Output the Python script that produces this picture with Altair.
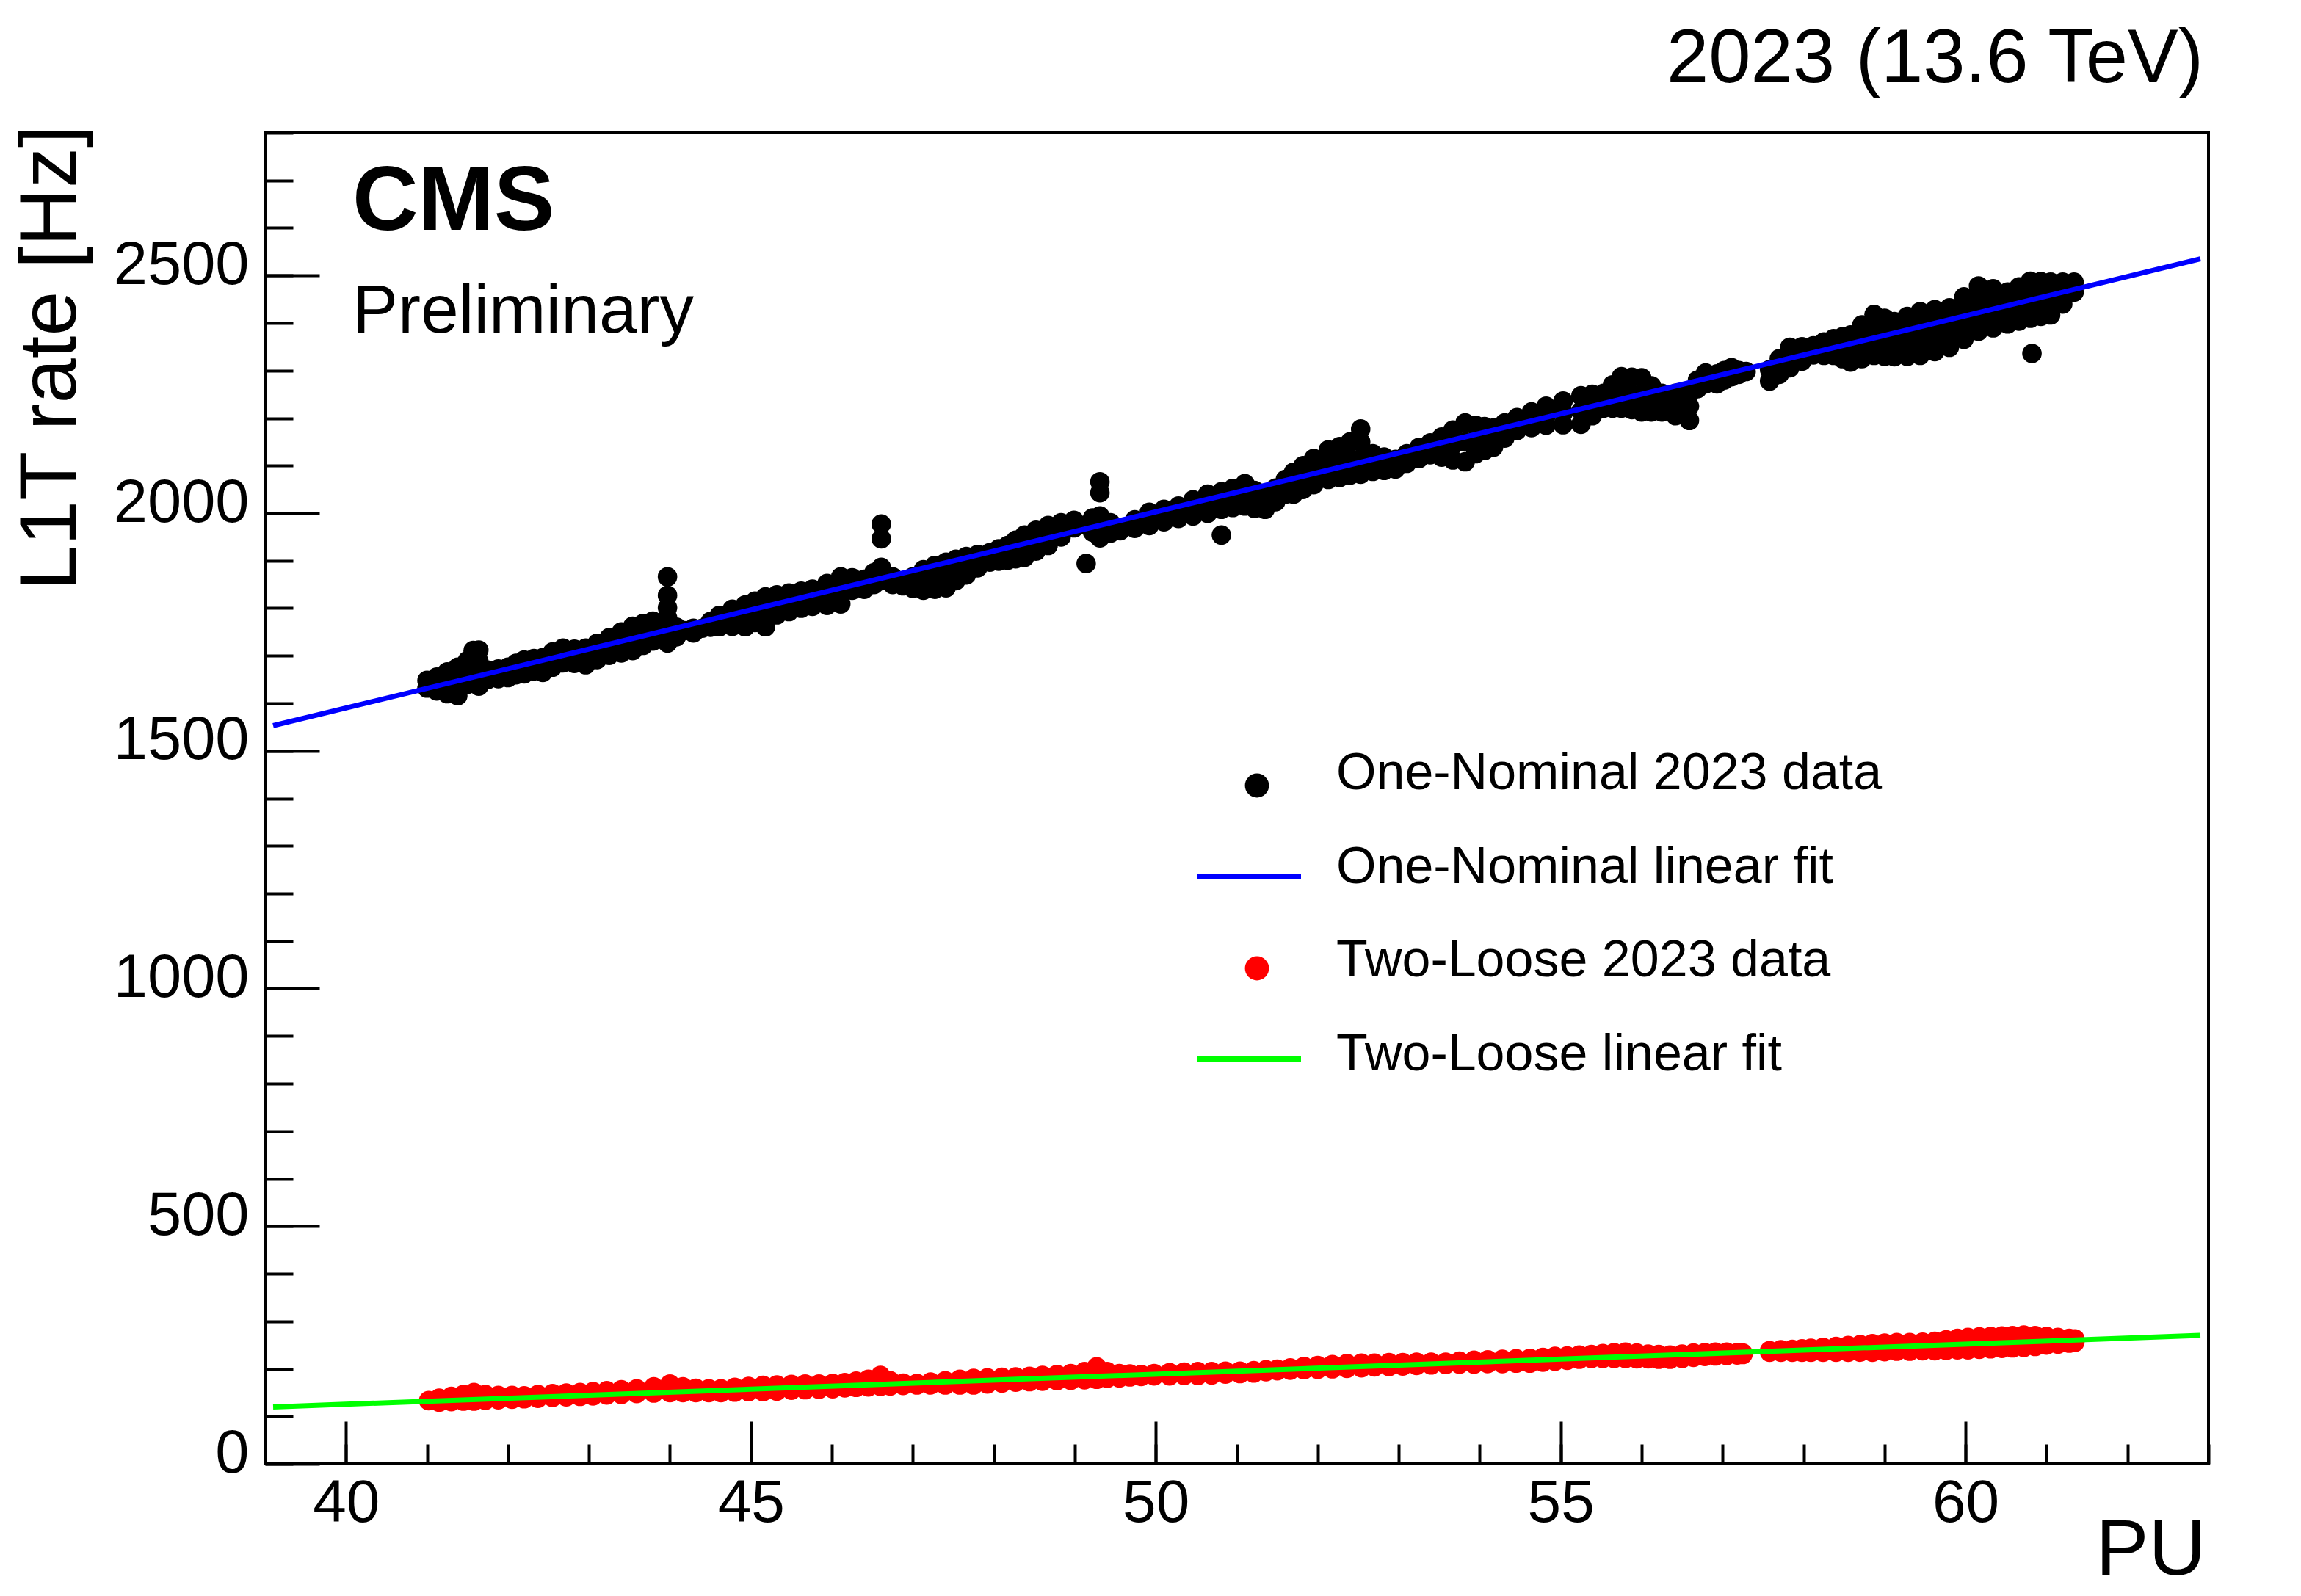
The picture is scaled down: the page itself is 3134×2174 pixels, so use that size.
import altair as alt
import pandas as pd

# ---------------- data ----------------
# One-Nominal 2023 data: PU columns and the rates of the points at each column
one_pu_cols = [41.00, 41.12, 41.25, 41.38, 41.50, 41.57, 41.64, 41.75, 41.88, 42.00,
               42.10, 42.20, 42.32, 42.43, 42.55, 42.68, 42.82, 42.96, 43.10, 43.25,
               43.40, 43.54, 43.67, 43.79, 43.90, 43.97, 44.08, 44.18, 44.29, 44.40,
               44.50, 44.61, 44.77, 44.93, 45.05, 45.18, 45.32, 45.47, 45.62, 45.76,
               45.94, 46.11, 46.25, 46.40, 46.52, 46.61, 46.75, 46.88, 47.00, 47.13,
               47.27, 47.41, 47.53, 47.66, 47.80, 47.95, 48.06, 48.17, 48.27, 48.38,
               48.52, 48.67, 48.83, 48.99, 49.14, 49.22, 49.31, 49.44, 49.56, 49.74,
               49.92, 50.10, 50.28, 50.46, 50.64, 50.81, 50.95, 51.10, 51.22, 51.35,
               51.48, 51.60, 51.70, 51.82, 51.95, 52.13, 52.27, 52.40, 52.53, 52.68,
               52.82, 52.96, 53.10, 53.25, 53.39, 53.53, 53.67, 53.82, 53.95, 54.06,
               54.17, 54.31, 54.46, 54.64, 54.82, 55.03, 55.25, 55.39, 55.53, 55.64,
               55.75, 55.88, 56.00, 56.12, 56.25, 56.42, 56.59, 56.69, 56.79, 56.93,
               57.02, 57.11, 57.20, 57.29, 57.58, 57.70, 57.83, 57.98, 58.12, 58.25,
               58.37, 58.48, 58.58, 58.72, 58.87, 59.00, 59.12, 59.28, 59.44, 59.62,
               59.80, 59.98, 60.16, 60.34, 60.52, 60.66, 60.80, 60.82, 60.93, 61.05,
               61.20, 61.34]
one_rate_cols = [[1648, 1632], [1655, 1626, 1640], [1666, 1620, 1643], [1676, 1616, 1645], [1690, 1640, 1665],
                 [1711, 1700, 1660], [1712, 1660, 1636, 1688], [1670, 1650], [1672, 1652], [1676, 1654],
                 [1684, 1660], [1691, 1662], [1694, 1668], [1696, 1665, 1680], [1708, 1676, 1692],
                 [1716, 1685, 1700], [1714, 1684, 1699], [1716, 1681, 1698], [1726, 1692, 1709], [1738, 1701, 1720],
                 [1750, 1706, 1728], [1762, 1711, 1735], [1768, 1722, 1745], [1773, 1731, 1752], [1760, 1735],
                 [1866, 1827, 1801, 1780, 1727, 1755], [1760, 1740], [1753], [1758, 1748], [1758],
                 [1772, 1760], [1785, 1761, 1773], [1798, 1762, 1780], [1807, 1761, 1785], [1815, 1770, 1792],
                 [1824, 1761, 1792], [1828, 1786, 1807], [1832, 1793, 1812], [1836, 1800, 1818], [1840, 1804, 1822],
                 [1852, 1806, 1829], [1866, 1809, 1840], [1864, 1838], [1861, 1840], [1875, 1850],
                 [1886, 1858, 1977, 1946], [1866, 1850], [1855, 1847], [1866, 1842], [1881, 1838, 1860],
                 [1890, 1840, 1865], [1897, 1843, 1870], [1903, 1858, 1880], [1909, 1870, 1890], [1913, 1885],
                 [1917, 1897], [1925, 1899], [1932, 1901, 1916], [1943, 1904, 1924], [1954, 1907, 1930],
                 [1964, 1920, 1942], [1974, 1932, 1953], [1980, 1950, 1965], [1985, 1969], [1894, 1975],
                 [1990, 1960, 1975], [1994, 1948, 1971, 2066, 2043], [1980, 1958], [1969, 1963], [1986, 1968],
                 [2002, 1974], [2008, 1982], [2015, 1989], [2028, 1994, 2011], [2040, 2000, 2020],
                 [1954, 2045, 2008, 2026], [2052, 2012, 2032], [2062, 2015, 2038], [2048, 2010, 2029], [2035, 2008],
                 [2053, 2024], [2071, 2040, 2055], [2086, 2040, 2063], [2100, 2050, 2075], [2115, 2060, 2088],
                 [2133, 2071, 2100], [2140, 2075, 2108], [2150, 2080, 2115], [2177, 2150, 2082, 2115], [2125, 2088, 2106],
                 [2118, 2090], [2113, 2093], [2125, 2105], [2138, 2115], [2148, 2123],
                 [2160, 2118, 2139], [2175, 2112, 2143], [2190, 2108, 2150], [2185, 2125, 2155], [2182, 2132, 2157],
                 [2179, 2139, 2159], [2190, 2158], [2201, 2174], [2213, 2180], [2225, 2185, 2205],
                 [2236, 2186, 2211], [2247, 2187, 2215], [2250, 2205, 2228], [2252, 2221], [2270, 2221, 2245],
                 [2287, 2221, 2255], [2286, 2218, 2250], [2285, 2213, 2250], [2268, 2213, 2240], [2252, 2213, 2232],
                 [2252, 2205, 2230], [2252, 2195, 2225], [2280, 2262], [2295, 2272], [2293, 2272],
                 [2300, 2280], [2306, 2287], [2300, 2292], [2298], [2302, 2278],
                 [2325, 2292], [2349, 2306, 2328], [2350, 2320], [2352, 2333], [2360, 2332],
                 [2367, 2332, 2350], [2371, 2325, 2348], [2375, 2318, 2345], [2396, 2325, 2360],
                 [2418, 2332, 2375, 2396, 2353],
                 [2410, 2330, 2370, 2390, 2350], [2403, 2329, 2365, 2384], [2414, 2330, 2372, 2393, 2351],
                 [2424, 2332, 2380, 2402, 2356], [2428, 2340, 2385, 2406, 2362],
                 [2432, 2349, 2390, 2411, 2370], [2455, 2366, 2410, 2432, 2388], [2478, 2383, 2430, 2454, 2406],
                 [2472, 2390, 2430, 2451, 2410], [2465, 2398, 2430, 2448],
                 [2476, 2404, 2440, 2458, 2422], [2488, 2410, 2450, 2469, 2430], [2336],
                 [2487, 2414, 2450, 2468, 2432], [2486, 2417, 2450, 2468, 2433],
                 [2486, 2440, 2462], [2486, 2465]]

# Two-Loose 2023 data
two_pu_cols = [41.02, 41.15, 41.30, 41.45, 41.58, 41.72, 41.88, 42.05, 42.20, 42.37,
               42.55, 42.72, 42.89, 43.05, 43.22, 43.40, 43.59, 43.80, 44.00, 44.16,
               44.32, 44.48, 44.63, 44.80, 44.97, 45.15, 45.32, 45.50, 45.67, 45.84,
               46.01, 46.16, 46.30, 46.45, 46.60, 46.72, 46.88, 47.05, 47.22, 47.40,
               47.58, 47.75, 47.92, 48.10, 48.27, 48.44, 48.60, 48.78, 48.95, 49.12,
               49.27, 49.40, 49.55, 49.68, 49.82, 49.98, 50.17, 50.35, 50.52, 50.69,
               50.86, 51.04, 51.21, 51.36, 51.50, 51.66, 51.83, 52.00, 52.18, 52.36,
               52.54, 52.70, 52.88, 53.05, 53.22, 53.40, 53.58, 53.75, 53.93, 54.10,
               54.28, 54.45, 54.62, 54.78, 54.93, 55.08, 55.23, 55.38, 55.52, 55.66,
               55.80, 55.94, 56.08, 56.21, 56.35, 56.50, 56.64, 56.78, 56.91, 57.05,
               57.18, 57.25, 57.58, 57.72, 57.86, 57.98, 58.09, 58.24, 58.40, 58.55,
               58.70, 58.85, 59.00, 59.15, 59.31, 59.47, 59.62, 59.76, 59.90, 60.03,
               60.17, 60.31, 60.45, 60.58, 60.72, 60.86, 61.00, 61.14, 61.28, 61.35]
two_rate_cols = [[133], [138, 130], [142, 131], [146, 132], [150, 132], [146, 134], [144, 135], [144, 136],
                 [143, 137], [146, 138], [148, 140], [149, 141], [150, 142], [152, 143], [154, 145],
                 [156, 146], [158, 148], [162, 149], [168, 150], [162, 150], [159, 150], [158, 150],
                 [158, 150], [161, 151], [163, 152], [165, 152], [166, 153], [167, 155], [168, 156],
                 [168, 157], [169, 158], [171, 160], [174, 161], [178, 162], [186, 163], [175, 164],
                 [170, 165], [169, 166], [172, 166], [175, 166], [178, 166], [180, 166], [181, 168],
                 [182, 170], [183, 172], [184, 173], [186, 174], [188, 175], [190, 176], [194, 177],
                 [204, 178], [194, 180], [190, 181], [189, 183], [188, 184], [190, 185], [192, 185],
                 [193, 186], [194, 186], [194, 187], [195, 189], [195, 190], [196, 191], [198, 194],
                 [199, 196], [202, 197], [205, 198], [207, 199], [209, 200], [211, 201], [212, 202],
                 [212, 204], [213, 205], [213, 206], [214, 207], [214, 208], [214, 209], [216, 210],
                 [218, 210], [219, 211], [220, 211], [221, 212], [222, 212], [224, 214], [226, 216],
                 [227, 218], [229, 220], [230, 222], [232, 222], [234, 222], [235, 222], [233, 221],
                 [231, 221], [230, 220], [229, 220], [231, 222], [233, 224], [234, 226], [235, 227],
                 [235, 228], [234, 229], [233, 230], [238, 235], [240, 235], [241, 235], [242, 235],
                 [243, 235], [245, 235], [247, 235], [249, 235], [251, 235], [253, 235], [254, 236],
                 [255, 237], [255, 237], [256, 238], [258, 238], [261, 239], [264, 240], [266, 240],
                 [267, 241], [268, 242], [269, 243], [270, 244], [271, 245], [270, 247], [268, 250],
                 [266, 252], [264, 254], [263, 256]]

# Linear fits (end points)
fit_pu = [39.1, 62.9]
one_fit_rate = [1553, 2535]
two_fit_rate = [119.8, 270.3]

# Axis ticks
x_major_ticks = [40, 45, 50, 55, 60]
x_minor_ticks = list(range(39, 64))
y_major_ticks = [0, 500, 1000, 1500, 2000, 2500]
y_minor_ticks = list(range(0, 2801, 100))

legend_labels = ["One-Nominal 2023 data", "One-Nominal linear fit",
                 "Two-Loose 2023 data", "Two-Loose linear fit"]


def expand(cols, vals):
    xs, ys = [], []
    for c, v in zip(cols, vals):
        for r in v:
            xs.append(c)
            ys.append(r)
    return pd.DataFrame({"pu": xs, "rate": ys})


one_df = expand(one_pu_cols, one_rate_cols)
two_df = expand(two_pu_cols, two_rate_cols)
fit_df = pd.DataFrame({"pu": fit_pu, "one": one_fit_rate, "two": two_fit_rate})

# ---------------- layout ----------------
W, H = 2647, 1813
FONT = "Liberation Sans"
xscale = alt.Scale(domain=[39, 63], nice=False, zero=False)
yscale = alt.Scale(domain=[0, 2800], nice=False, zero=True)


def tick_axis(values, size, orient):
    return alt.Axis(values=values, orient=orient, offset=-size, tickSize=size, tickWidth=4,
                    tickColor="black", labels=False, domain=False, grid=False, title=None)


label_x_axis = alt.Axis(values=x_major_ticks, orient="bottom", ticks=False, tickSize=0, domain=False,
                        grid=False, format="d", labelFont=FONT, labelFontSize=82, labelColor="black",
                        labelPadding=13, labelFlush=False, labelOverlap=False, labelLimit=600,
                        title="PU", titleFont=FONT, titleFontSize=108, titleFontWeight="normal",
                        titleColor="black", titleAnchor="end", titleAlign="right",
                        titleBaseline="alphabetic", titleX=W - 4, titleY=150)
label_y_axis = alt.Axis(values=y_major_ticks, orient="left", ticks=False, tickSize=0, domain=False,
                        grid=False, format="d", labelFont=FONT, labelFontSize=83, labelColor="black",
                        labelPadding=22, labelOffset=-14, labelFlush=False, labelOverlap=False,
                        labelLimit=600,
                        title="L1T rate [Hz]", titleFont=FONT, titleFontSize=110,
                        titleFontWeight="normal", titleColor="black", titleAngle=270,
                        titleAlign="right", titleBaseline="alphabetic", titleX=-259, titleY=-11)

black = alt.Chart(one_df).mark_circle(size=707, color="black", opacity=1).encode(
    x=alt.X("pu:Q", scale=xscale, axis=tick_axis(x_major_ticks, 58, "bottom")),
    y=alt.Y("rate:Q", scale=yscale, axis=tick_axis(y_major_ticks, 74, "left")),
)
red = alt.Chart(two_df).mark_circle(size=707, color="#ff0000", opacity=1).encode(
    x=alt.X("pu:Q", scale=xscale, axis=tick_axis(x_minor_ticks, 27, "bottom")),
    y=alt.Y("rate:Q", scale=yscale, axis=tick_axis(y_minor_ticks, 38, "left")),
)
blue = alt.Chart(fit_df).mark_line(color="#0000ff", strokeWidth=7).encode(
    x=alt.X("pu:Q", scale=xscale, axis=label_x_axis),
    y=alt.Y("one:Q", scale=yscale, axis=label_y_axis),
)
green = alt.Chart(fit_df).mark_line(color="#00ff00", strokeWidth=7).encode(
    x=alt.X("pu:Q", scale=xscale, axis=None),
    y=alt.Y("two:Q", scale=yscale, axis=None),
)


def text_at(text, x, y, size, weight="normal", align="left"):
    return alt.Chart(pd.DataFrame({"t": [text]})).mark_text(
        font=FONT, fontSize=size, fontWeight=weight, align=align, baseline="alphabetic",
        color="black").encode(x=alt.value(x), y=alt.value(y), text="t:N")


def dot_at(x, y, color):
    return alt.Chart(pd.DataFrame({"t": [0]})).mark_circle(
        size=1075, color=color, opacity=1).encode(x=alt.value(x), y=alt.value(y))


def line_at(x1, x2, y, color):
    return alt.Chart(pd.DataFrame({"t": [0]})).mark_rule(
        color=color, strokeWidth=8).encode(x=alt.value(x1), x2=alt.value(x2), y=alt.value(y))


annotations = [
    text_at("2023 (13.6 TeV)", 2640, -69, 103, align="right"),
    text_at("CMS", 119, 132, 124, weight="bold"),
    text_at("Preliminary", 119, 272, 93),
    dot_at(1351, 889, "black"),
    line_at(1270, 1411, 1013, "#0000ff"),
    dot_at(1351, 1138, "#ff0000"),
    line_at(1270, 1411, 1262, "#00ff00"),
]
for lab, yy in zip(legend_labels, [894, 1022, 1149, 1277]):
    annotations.append(text_at(lab, 1459, yy, 70))

chart = alt.layer(black, red, blue, green, *annotations).resolve_axis(
    x="independent", y="independent"
).properties(
    width=W, height=H,
    padding={"left": 353, "top": 173, "right": 60, "bottom": 170},
    autosize=alt.AutoSizeParams(type="none"),
    background="white",
).configure_view(stroke="black", strokeWidth=4)

chart.save("out.html", embed_options={"renderer": "svg", "actions": False})
